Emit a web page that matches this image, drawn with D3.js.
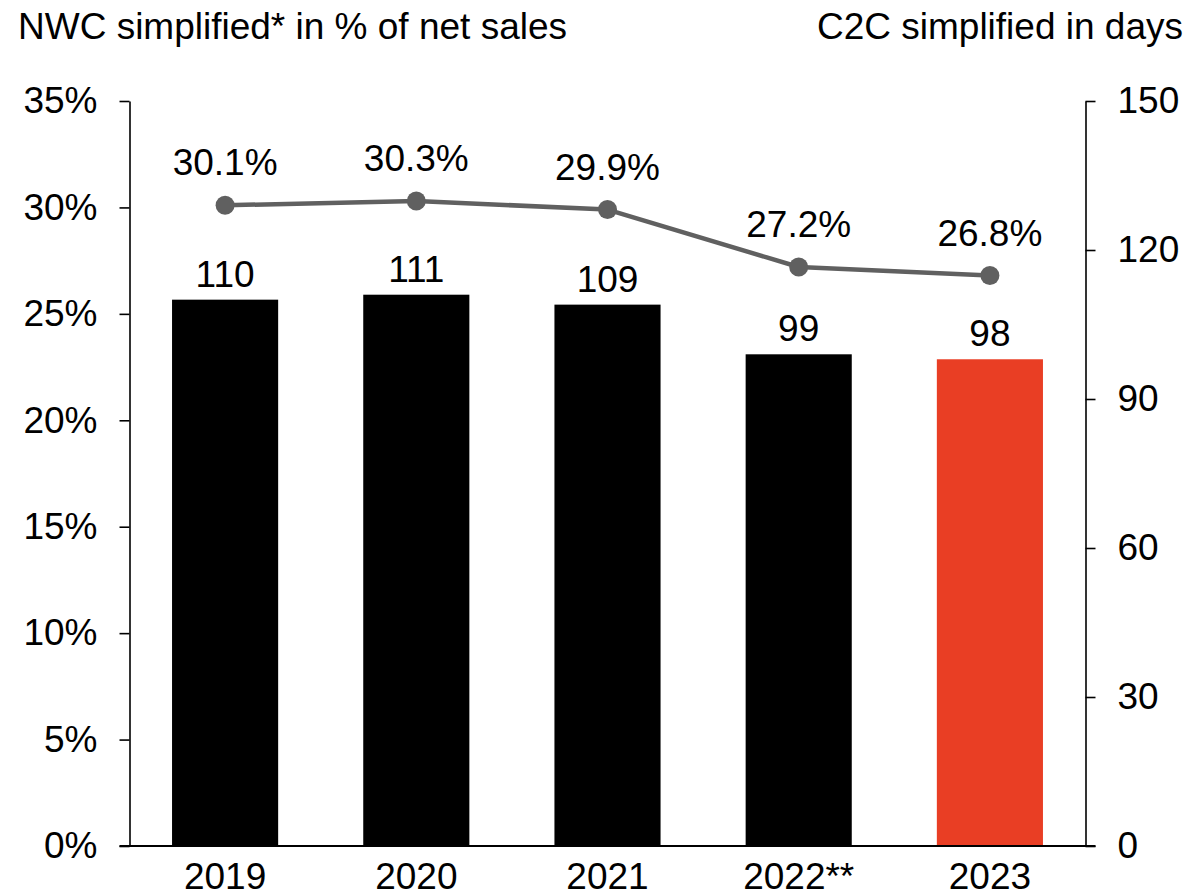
<!DOCTYPE html>
<html>
<head>
<meta charset="utf-8">
<script src="https://cdn.jsdelivr.net/npm/d3@7"></script>
<style>
  html, body { margin: 0; padding: 0; background: #fff; }
  svg { display: block; font-family: "Liberation Sans", Arial, sans-serif; }
</style>
</head>
<body>
<script>
// Years shown on the category axis
const years = ["2019", "2020", "2021", "2022**", "2023"];
// Cash-to-cash cycle, simplified, in days (bars, right axis)
const c2cDays = [110, 111, 109, 99, 98];
// Net working capital, simplified, as % of net sales (line, left axis)
const nwcPct = [30.1, 30.3, 29.9, 27.2, 26.8];
// Axis tick values
const leftTicks = [0, 5, 10, 15, 20, 25, 30, 35];
const rightTicks = [0, 30, 60, 90, 120, 150];

const W = 1191, H = 892;
const fontSize = 37;
const barColors = ["#000000", "#000000", "#000000", "#000000", "#E93E24"];
const lineColor = "#606060";

const plot = { left: 129.5, right: 1085.5, top: 101, bottom: 846 };

const svg = d3.select("body").append("svg")
  .attr("width", W).attr("height", H);

const x = d3.scaleBand()
  .domain(years)
  .range([plot.left, plot.right])
  .paddingInner(0.445)
  .paddingOuter(0.2225);

const yLeft = d3.scaleLinear().domain([0, 35]).range([plot.bottom, plot.top]);
const yRight = d3.scaleLinear().domain([0, 150]).range([plot.bottom, plot.top]);

// Axis titles
svg.append("text")
  .attr("x", 18).attr("y", 39)
  .attr("font-size", fontSize).attr("fill", "#000")
  .text("NWC simplified* in % of net sales");
svg.append("text")
  .attr("x", 1183).attr("y", 39)
  .attr("text-anchor", "end")
  .attr("font-size", fontSize).attr("fill", "#000")
  .text("C2C simplified in days");

// Bars (days, right scale)
svg.append("g").selectAll("rect")
  .data(years)
  .join("rect")
  .attr("x", d => x(d))
  .attr("width", x.bandwidth())
  .attr("y", (d, i) => yRight(c2cDays[i]))
  .attr("height", (d, i) => yRight(0) - yRight(c2cDays[i]))
  .attr("fill", (d, i) => barColors[i]);

// Bar value labels
svg.append("g").selectAll("text")
  .data(years)
  .join("text")
  .attr("x", d => x(d) + x.bandwidth() / 2)
  .attr("y", (d, i) => yRight(c2cDays[i]) - 13)
  .attr("text-anchor", "middle")
  .attr("font-size", fontSize).attr("fill", "#000")
  .text((d, i) => c2cDays[i]);

// Left axis (percent)
const axL = svg.append("g")
  .attr("transform", `translate(${plot.left},0)`)
  .call(d3.axisLeft(yLeft).tickValues(leftTicks).tickFormat(d => d + "%")
    .tickSize(10).tickSizeOuter(0).tickPadding(22));

// Right axis (days)
const axR = svg.append("g")
  .attr("transform", `translate(${plot.right},0)`)
  .call(d3.axisRight(yRight).tickValues(rightTicks)
    .tickSize(10).tickSizeOuter(0).tickPadding(22));

[axL, axR].forEach(ax => {
  ax.selectAll("path.domain").attr("stroke", "#000").attr("stroke-width", 1.6);
  ax.selectAll(".tick line").attr("stroke", "#000").attr("stroke-width", 1.6);
  ax.selectAll(".tick text")
    .attr("font-size", fontSize)
    .attr("font-family", "Liberation Sans, Arial, sans-serif")
    .attr("fill", "#000");
});

// Category axis: baseline spanning both tick marks, labels below
const axB = svg.append("g")
  .attr("transform", `translate(0,${plot.bottom})`)
  .call(d3.axisBottom(x).tickSize(0).tickPadding(43));
axB.select("path.domain").remove();
axB.append("line")
  .attr("x1", plot.left - 10).attr("x2", plot.right + 10)
  .attr("y1", 0).attr("y2", 0)
  .attr("stroke", "#000").attr("stroke-width", 2);
axB.selectAll(".tick text")
  .attr("font-size", fontSize)
  .attr("font-family", "Liberation Sans, Arial, sans-serif")
  .attr("fill", "#000")
  .attr("dy", 0);

// NWC line with markers (percent, left scale)
const pts = years.map((d, i) => [x(d) + x.bandwidth() / 2, yLeft(nwcPct[i])]);
svg.append("path")
  .attr("d", d3.line()(pts))
  .attr("fill", "none")
  .attr("stroke", lineColor)
  .attr("stroke-width", 4.5)
  .attr("stroke-linejoin", "round");
svg.append("g").selectAll("circle")
  .data(pts)
  .join("circle")
  .attr("cx", d => d[0]).attr("cy", d => d[1])
  .attr("r", 9.5)
  .attr("fill", lineColor);

// Line value labels
svg.append("g").selectAll("text")
  .data(years)
  .join("text")
  .attr("x", d => x(d) + x.bandwidth() / 2)
  .attr("y", (d, i) => yLeft(nwcPct[i]) - 30)
  .attr("text-anchor", "middle")
  .attr("font-size", fontSize).attr("fill", "#000")
  .text((d, i) => nwcPct[i].toFixed(1) + "%");
</script>
</body>
</html>
